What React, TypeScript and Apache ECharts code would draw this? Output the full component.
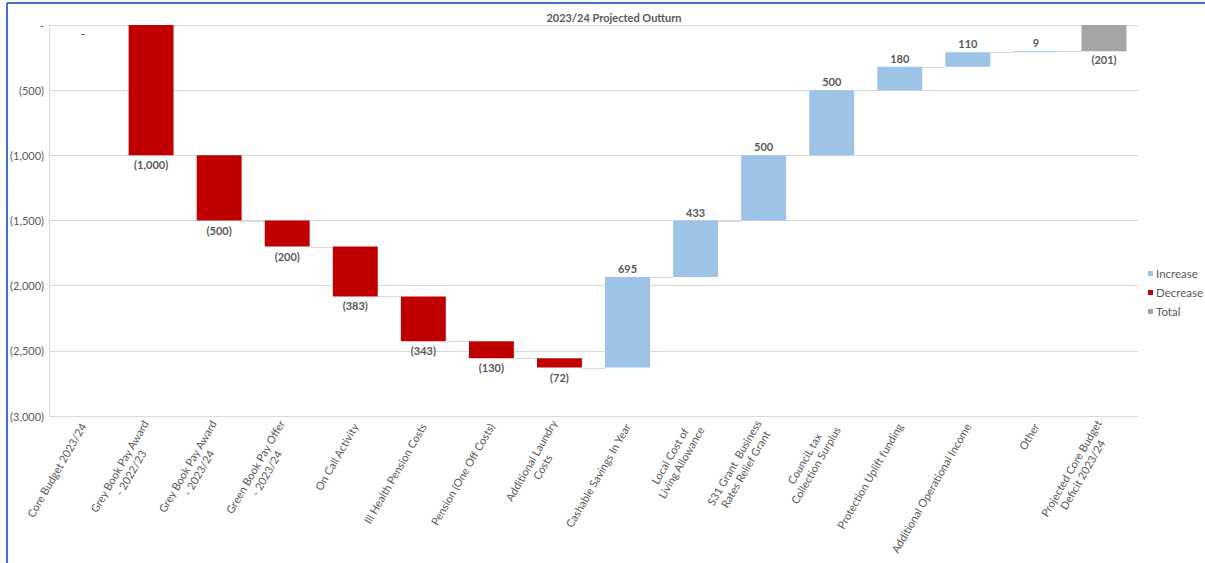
import React, { useEffect, useRef } from "react";
import * as echarts from "echarts";

const title = "2023/24 Projected Outturn";

const categories = [
  "Core Budget 2023/24",
  "Grey Book Pay Award\n- 2022/23",
  "Grey Book Pay Award\n- 2023/24",
  "Green Book Pay Offer\n- 2023/24",
  "On Call Activity",
  "Ill Health Pension Costs",
  "Pension (One Off Costs)",
  "Additional Laundry\nCosts",
  "Cashable Savings In Year",
  "Local Cost of\nLiving Allowance",
  "S31 Grant  Business\nRates Relief Grant",
  "CounciL tax\nCollection Surplus",
  "Protection Uplift funding",
  "Additional Operational Income",
  "Other",
  "Projected Core Budget\nDeficit 2023/24",
];

const changes = [0, -1000, -500, -200, -383, -343, -130, -72, 695, 433, 500, 500, 180, 110, 9, -201];

const kinds = [
  "total",
  "decrease",
  "decrease",
  "decrease",
  "decrease",
  "decrease",
  "decrease",
  "decrease",
  "increase",
  "increase",
  "increase",
  "increase",
  "increase",
  "increase",
  "increase",
  "total",
];

const legendNames = ["Increase", "Decrease", "Total"];
const yMin = -3000;
const yMax = 0;
const yStep = 500;

const TEXT = "#595959";
const FONT = "Lato";
const COLORS: Record<string, string> = {
  Increase: "#9DC3E6",
  Decrease: "#C00000",
  Total: "#A5A5A5",
};

function fmt(v: number): string {
  if (v === 0) return "-";
  const s = Math.abs(v).toLocaleString("en-GB");
  return v < 0 ? `(${s})` : s;
}

export default function App() {
  const ref = useRef<HTMLDivElement>(null);

  useEffect(() => {
    if (!ref.current) return;
    const chart = echarts.init(ref.current, undefined, { renderer: "svg" });

    const lo: number[] = [];
    const hi: number[] = [];
    const level: number[] = [];
    let running = 0;
    changes.forEach((v, i) => {
      let a: number, b: number;
      if (kinds[i] === "total") {
        a = 0;
        b = v;
        running = v;
      } else {
        a = running;
        b = running + v;
        running = b;
      }
      lo.push(Math.min(a, b));
      hi.push(Math.max(a, b));
      level.push(running);
    });

    const seg = (kind: string) =>
      changes.map((_, i) => (kinds[i] === kind ? lo[i] - hi[i] : "-"));

    const labelBase = {
      show: true,
      color: TEXT,
      fontFamily: FONT,
      fontSize: 11,
      fontWeight: "bold" as const,
      formatter: (p: any) => fmt(changes[p.dataIndex]),
    };

    const connectors = level.slice(0, level.length - 1).map((l, i) => [i, l]);

    chart.setOption({
      animation: false,
      backgroundColor: "#ffffff",
      title: {
        text: title,
        left: 609,
        top: 7,
        textAlign: "center",
        textStyle: { color: TEXT, fontFamily: FONT, fontSize: 11, fontWeight: "bold" },
      },
      legend: {
        data: legendNames,
        orient: "vertical",
        left: 1143,
        top: 262,
        itemWidth: 5,
        itemHeight: 5,
        itemGap: 6,
        icon: "rect",
        selectedMode: false,
        textStyle: { color: TEXT, fontFamily: FONT, fontSize: 11.5, lineHeight: 13, padding: [0, 0, 0, -2] },
      },
      grid: { left: 49, right: 67, top: 25, bottom: 147, containLabel: false, outerBoundsMode: "none" },
      xAxis: {
        type: "category",
        data: categories,
        axisLine: { show: false, onZero: false },
        axisTick: { show: false },
        splitLine: { show: false },
        axisLabel: {
          interval: 0,
          rotate: 60,
          margin: 8,
          formatter: (v: string) => v.split("\n").map((s) => `{c|${s}}`).join("\n"),
          rich: {
            c: { align: "center", fontSize: 11, fontFamily: FONT, color: TEXT, lineHeight: 13 },
          },
        },
      },
      yAxis: {
        type: "value",
        min: yMin,
        max: yMax,
        interval: yStep,
        axisLine: { show: true, lineStyle: { color: "#D9D9D9" } },
        axisTick: { show: false },
        splitLine: { lineStyle: { color: "#D9D9D9" } },
        axisLabel: { formatter: (v: number) => fmt(v), color: TEXT, fontFamily: FONT, fontSize: 11, margin: 5 },
      },
      series: [
        {
          name: "base",
          type: "bar",
          stack: "w",
          barWidth: "66%",
          silent: true,
          itemStyle: { color: "rgba(0,0,0,0)" },
          data: hi,
        },
        {
          name: "Increase",
          type: "bar",
          stack: "w",
          itemStyle: { color: COLORS.Increase },
          label: { ...labelBase, position: "top", distance: 3 },
          data: seg("increase"),
        },
        {
          name: "Decrease",
          type: "bar",
          stack: "w",
          itemStyle: { color: COLORS.Decrease },
          label: { ...labelBase, position: "bottom", distance: 4 },
          data: seg("decrease"),
        },
        {
          name: "Total",
          type: "bar",
          stack: "w",
          itemStyle: { color: COLORS.Total },
          label: { ...labelBase, position: "bottom", distance: 3 },
          data: seg("total"),
        },
        {
          name: "connector",
          type: "custom",
          silent: true,
          encode: { x: 0, y: 1 },
          data: connectors,
          z: 1,
          renderItem: (params: any, api: any) => {
            const idx = api.value(0);
            const lvl = api.value(1);
            const p = api.coord([idx, lvl]);
            const w = api.size([1, 0])[0];
            const bw = w * 0.66;
            const y = Math.round(p[1]) + 0.5;
            return {
              type: "line",
              shape: { x1: p[0] + bw / 2, y1: y, x2: p[0] + w - bw / 2, y2: y },
              style: { stroke: "#D9D9D9", lineWidth: 1 },
            };
          },
        },
      ],
      graphic: [
        { type: "line", shape: { x1: 7, y1: 3, x2: 1205, y2: 3 }, style: { stroke: "#4472C4", lineWidth: 2 } },
        { type: "line", shape: { x1: 7, y1: 3, x2: 7, y2: 563 }, style: { stroke: "#4472C4", lineWidth: 2 } },
      ],
    });

    return () => chart.dispose();
  }, []);

  return (
    <div
      ref={ref}
      style={{ position: "fixed", left: 0, top: 0, width: 1205, height: 563, background: "#fff" }}
    />
  );
}
